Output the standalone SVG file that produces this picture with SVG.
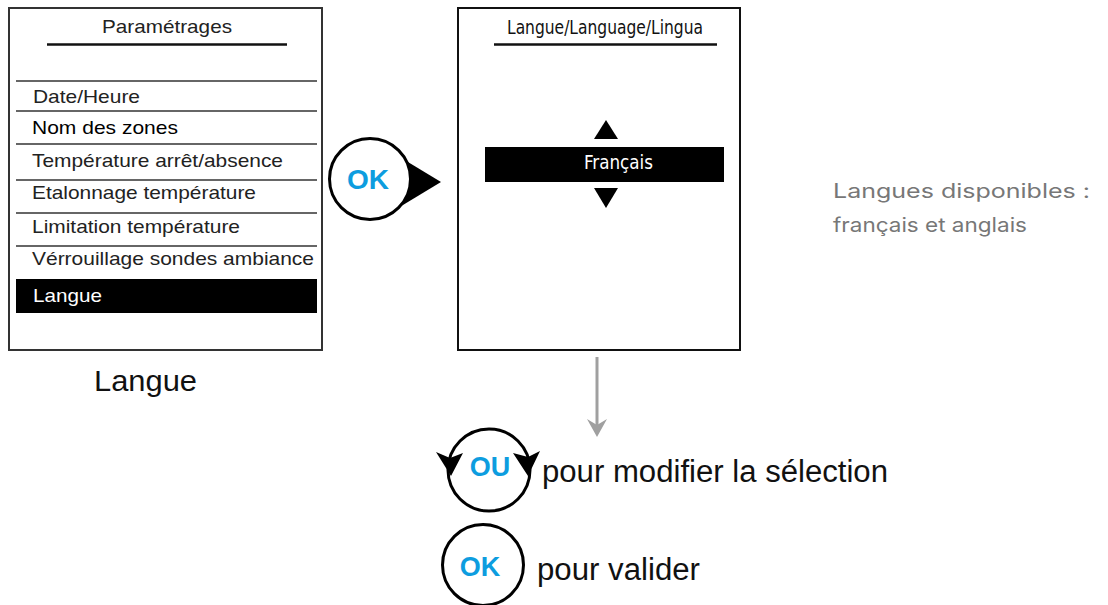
<svg xmlns="http://www.w3.org/2000/svg" width="1108" height="605" viewBox="0 0 1108 605">
<style>
.box{fill:#fff;stroke:#333;stroke-width:2}
.sep{stroke:#333;stroke-width:1.5}
.menu{font-family:"Liberation Sans",Arial,sans-serif;font-size:19px;fill:#222}
.menu.inv{fill:#fff}
.menu.dark{fill:#000}
.btn{fill:#fff;stroke:#000;stroke-width:3}
.blue{font-family:"Liberation Sans",Arial,sans-serif;font-weight:bold;fill:#0d9ddf;text-anchor:middle}
.big{font-family:"Liberation Sans",Arial,sans-serif;font-size:31px;fill:#111}
.lcd{font-family:"DejaVu Sans Condensed","Liberation Sans Narrow",sans-serif;font-size:20px;text-anchor:middle}
.note{font-family:Inter,"Liberation Sans",sans-serif;font-size:20px;fill:#777}
</style>
<rect width="1108" height="605" fill="#fff"/>

<g id="menu-screen">
<rect class="box" x="9" y="8" width="313" height="342"/>
<text class="menu" x="167" y="33" text-anchor="middle" textLength="130" lengthAdjust="spacingAndGlyphs">Paramétrages</text>
<line x1="47" y1="44.5" x2="287" y2="44.5" stroke="#111" stroke-width="2.5"/>
<line class="sep" x1="16" y1="81" x2="317" y2="81"/>
<text class="menu" x="33" y="103" textLength="107" lengthAdjust="spacingAndGlyphs">Date/Heure</text>
<line class="sep" x1="16" y1="111" x2="317" y2="111"/>
<text class="menu dark" x="32" y="134" textLength="146" lengthAdjust="spacingAndGlyphs">Nom des zones</text>
<line class="sep" x1="16" y1="144" x2="317" y2="144"/>
<text class="menu" x="32" y="167" textLength="251" lengthAdjust="spacingAndGlyphs">Température arrêt/absence</text>
<line class="sep" x1="16" y1="180" x2="317" y2="180"/>
<text class="menu" x="32" y="199" textLength="224" lengthAdjust="spacingAndGlyphs">Etalonnage température</text>
<line class="sep" x1="16" y1="213" x2="317" y2="213"/>
<text class="menu" x="32" y="233" textLength="208" lengthAdjust="spacingAndGlyphs">Limitation température</text>
<line class="sep" x1="16" y1="246" x2="317" y2="246"/>
<text class="menu" x="32" y="265" textLength="282" lengthAdjust="spacingAndGlyphs">Vérrouillage sondes ambiance</text>
<rect x="16" y="279" width="301" height="34" fill="#000"/>
<text class="menu inv" x="33" y="302" textLength="69" lengthAdjust="spacingAndGlyphs">Langue</text>
</g>

<g id="label-langue">
<text class="big" x="94" y="391" style="font-size:30px" textLength="103" lengthAdjust="spacingAndGlyphs">Langue</text>
</g>

<g id="ok-button-1">
<polygon points="398,156 441,182 398,208" fill="#000"/>
<circle class="btn" cx="370" cy="179" r="40.5"/>
<text class="blue" x="368" y="189" font-size="28">OK</text>
</g>

<g id="language-screen">
<rect class="box" x="458" y="8" width="282" height="342" style="stroke:#111"/>
<text class="lcd" x="605" y="34" fill="#111" textLength="196" lengthAdjust="spacingAndGlyphs">Langue/Language/Lingua</text>
<line x1="494" y1="44.5" x2="717" y2="44.5" stroke="#111" stroke-width="2.5"/>
<polygon points="606,120 618,139 594,139" fill="#000"/>
<rect x="485" y="147" width="239" height="35" fill="#000"/>
<text class="lcd" x="618.5" y="169" fill="#fff" textLength="69" lengthAdjust="spacingAndGlyphs">Français</text>
<polygon points="594,188 618,188 606,208" fill="#000"/>
</g>

<g id="note">
<text class="note" x="833" y="198" textLength="257" lengthAdjust="spacingAndGlyphs">Langues disponibles :</text>
<text class="note" x="833" y="232" textLength="194" lengthAdjust="spacingAndGlyphs">français et anglais</text>
</g>

<g id="connectors">
<line x1="597" y1="357" x2="597" y2="425" stroke="#a0a0a0" stroke-width="3"/>
<polygon points="587,419 597,425 607,419 597,437" fill="#a0a0a0"/>
</g>

<g id="ou-button">
<circle cx="489" cy="470" r="41" fill="#fff" stroke="#000" stroke-width="3"/>
<polygon points="436,452 450,458 463,453 451,476" fill="#000"/>
<polygon points="513,453 528,457 540,451 528,476" fill="#000"/>
<text class="blue" x="490" y="476" font-size="27">OU</text>
<text class="big" x="542" y="482" textLength="346" lengthAdjust="spacingAndGlyphs">pour modifier la sélection</text>
</g>

<g id="ok-button-2">
<circle cx="483" cy="565" r="40.5" fill="#fff" stroke="#000" stroke-width="3"/>
<text class="blue" x="480" y="576" font-size="27">OK</text>
<text class="big" x="537" y="580" textLength="163" lengthAdjust="spacingAndGlyphs">pour valider</text>
</g>
</svg>
